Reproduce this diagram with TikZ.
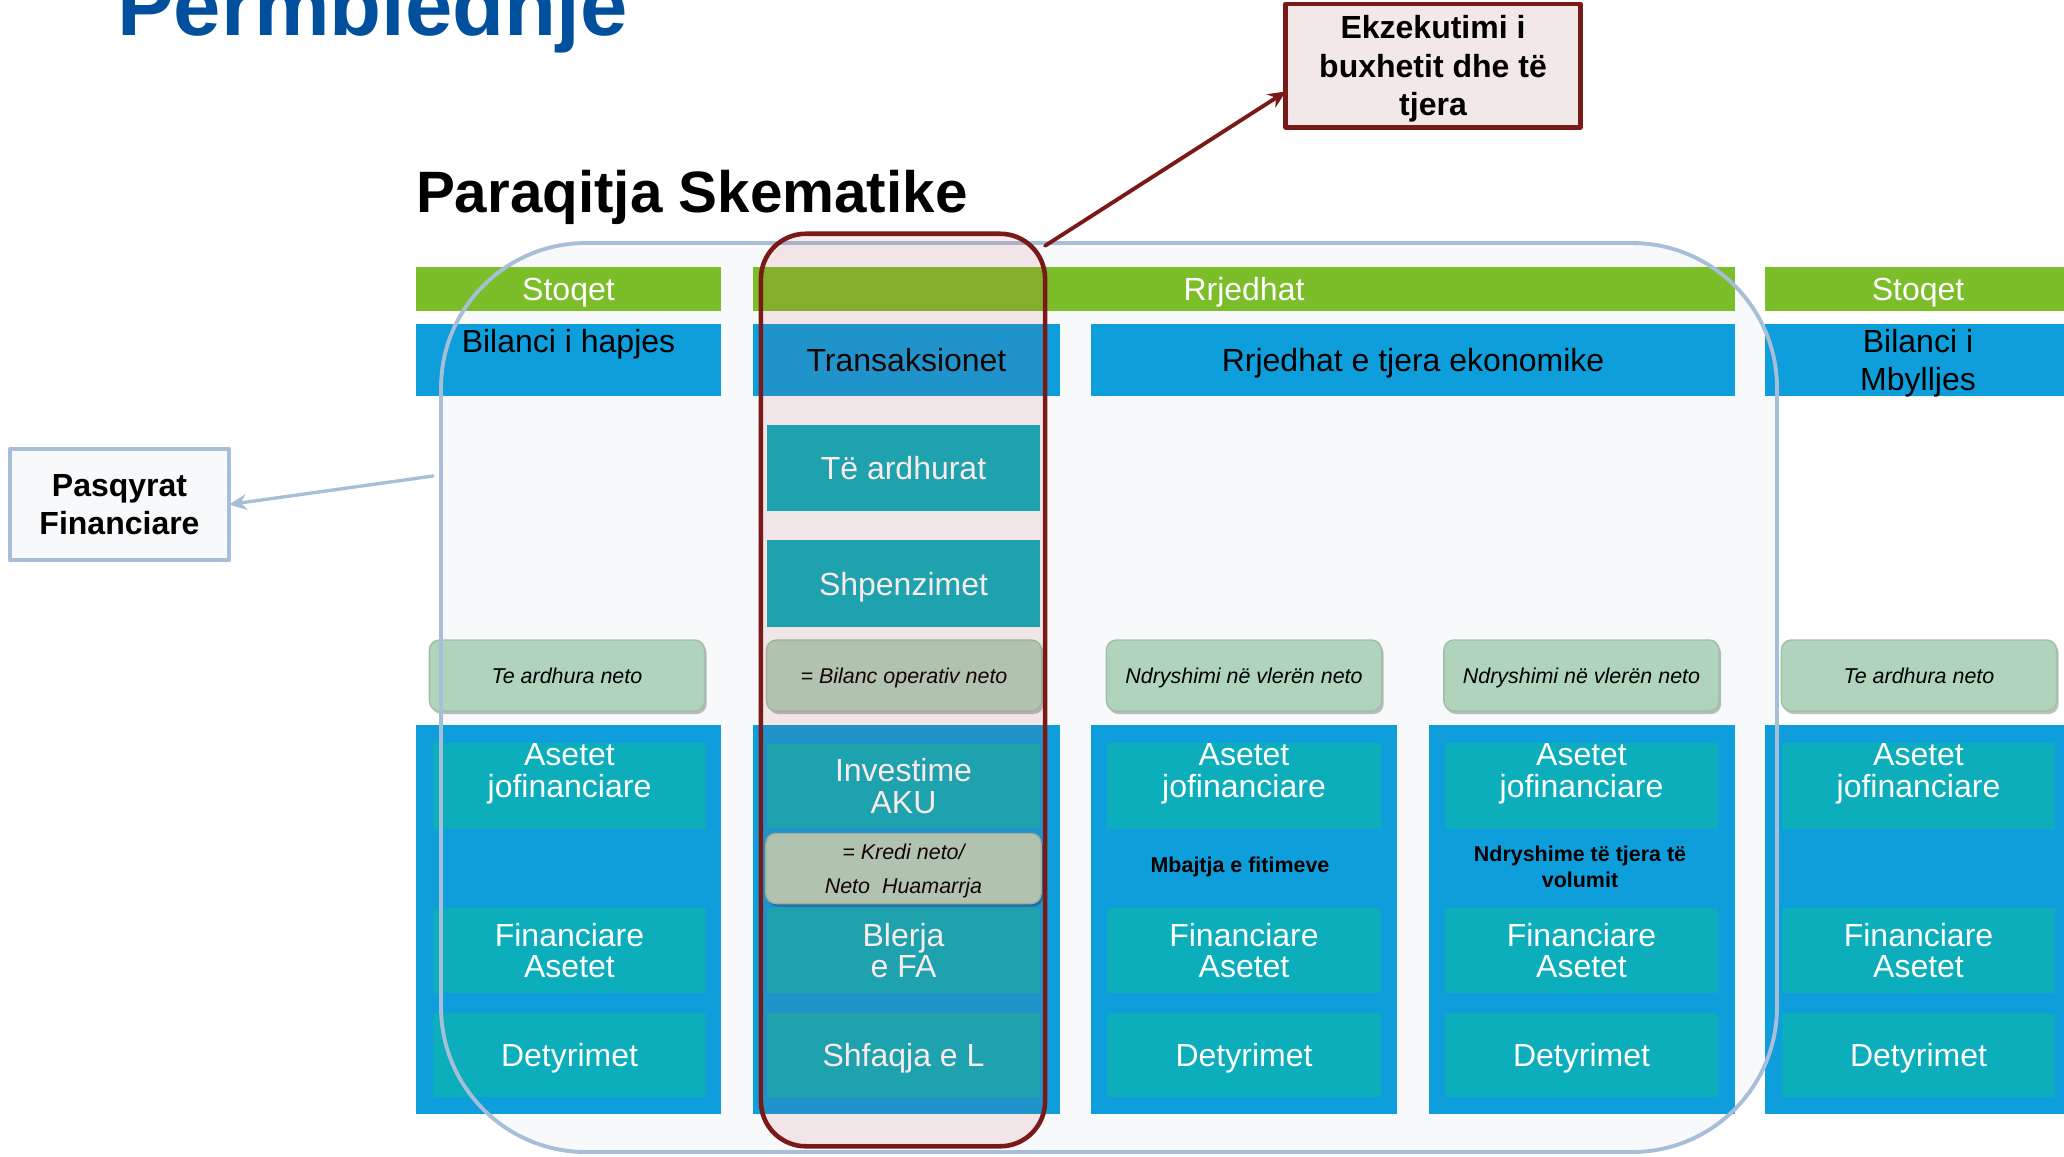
\documentclass[tikz,border=0pt]{standalone}
\usepackage{fontspec}
\setmainfont{Liberation Sans}
\usetikzlibrary{shadows,arrows.meta}
\definecolor{hdrgreen}{RGB}{124,189,42}
\definecolor{barblue}{RGB}{14,158,219}
\definecolor{cellteal}{RGB}{11,174,186}
\definecolor{netgreen}{RGB}{175,211,187}
\definecolor{netedge}{RGB}{160,190,170}
\definecolor{finblue}{RGB}{166,190,216}
\definecolor{finbg}{RGB}{247,249,251}
\definecolor{budred}{RGB}{122,26,24}
\definecolor{budpink}{RGB}{200,60,60}
\definecolor{budbg}{RGB}{242,232,232}
\definecolor{titleblue}{RGB}{0,80,158}
\newcommand\szhead{\fontsize{9.1}{10.8}\selectfont}
\newcommand\szcell{\fontsize{9.1}{9}\selectfont}
\newcommand\sznet{\fontsize{6.1}{9.5}\selectfont\itshape}
\newcommand\szlbl{\fontsize{6.1}{7.5}\selectfont\bfseries}
\newcommand\sznote{\fontsize{9.1}{11}\selectfont\bfseries}
\begin{document}
\begin{tikzpicture}[x=0.01cm,y=-0.01cm,line join=round,line cap=round,>={Stealth[length=5pt,width=4.5pt]},
	every node/.style={inner sep=0pt,outer sep=0pt},
	hdr/.style={fill=hdrgreen,text=white,minimum height=0.44cm,text depth=0pt,font=\szhead},
	bar/.style={fill=barblue,text=black,minimum height=0.72cm,text depth=0pt,align=center,font=\szhead},
	panel/.style={fill=barblue,minimum width=3.06cm,minimum height=3.89cm},
	cell/.style={fill=cellteal,text=white,minimum width=2.73cm,minimum height=0.85cm,text depth=0pt,align=center,font=\szcell},
	net/.style={fill=netgreen,draw=netedge,line width=0.4pt,rounded corners=0.1cm,minimum width=2.75cm,minimum height=0.71cm,text depth=0pt,align=center,font=\sznet,
		drop shadow={shadow xshift=0.02cm,shadow yshift=-0.03cm,opacity=0.25,fill=black}},
	lbl/.style={align=center,font=\szlbl},
	note/.style={line width=1.15pt,text depth=0pt,align=center,font=\sznote}]
	%%khung
	\useasboundingbox (0,0) rectangle (2064,1156);
	\fill[white] (0,0) rectangle (2064,1156);
	\fill[finbg,rounded corners=1.45cm] (441,243) rectangle (1777,1152);
	%%tituj
	\node[anchor=base west,text=titleblue,font=\fontsize{24.2}{26}\selectfont\bfseries] (tmain) at (117,35) {Përmbledhje};
	\node[anchor=base west,font=\fontsize{16.6}{18}\selectfont\bfseries] (tsub) at (416,212) {Paraqitja Skematike};
	%%koka
	\node[hdr,minimum width=3.05cm] (hA) at (568.5,289) {Stoqet};
	\node[hdr,minimum width=9.82cm] (hF) at (1244,289) {Rrjedhat};
	\node[hdr,minimum width=3.06cm] (hE) at (1918,289) {Stoqet};
	\node[bar,minimum width=3.05cm] (bA) at (568.5,360) {Bilanci i hapjes\\~};
	\node[bar,minimum width=3.07cm] (bB) at (906.5,360) {Transaksionet};
	\node[bar,minimum width=6.44cm] (bC) at (1413,360) {Rrjedhat e tjera ekonomike};
	\node[bar,minimum width=3.06cm] (bE) at (1918,360) {Bilanci i\\Mbylljes};
	%%transaksionet
	\node[cell,minimum height=0.86cm] (tB1) at (903.5,468) {Të ardhurat};
	\node[cell,minimum height=0.87cm] (tB2) at (903.5,583.5) {Shpenzimet};
	%%rezultatet neto
	\node[net] (nA) at (567,675.5) {Te ardhura neto};
	\node[net] (nB) at (904,675.5) {= Bilanc operativ neto};
	\node[net] (nC) at (1244,675.5) {Ndryshimi në vlerën neto};
	\node[net] (nD) at (1581.5,675.5) {Ndryshimi në vlerën neto};
	\node[net] (nE) at (1919,675.5) {Te ardhura neto};
	%%panelet
	\node[panel,minimum width=3.05cm] (pA) at (568.5,919.5) {};
	\node[panel,minimum width=3.07cm] (pB) at (906.5,919.5) {};
	\node[panel] (pC) at (1244,919.5) {};
	\node[panel] (pD) at (1582,919.5) {};
	\node[panel] (pE) at (1918,919.5) {};
	%%A
	\node[cell,minimum height=0.84cm] (a1) at (569.5,786) {Asetet\\jofinanciare\\~};
	\node[cell] (a2) at (569.5,950.5) {Financiare\\Asetet};
	\node[cell,minimum height=0.84cm] (a3) at (569.5,1055) {Detyrimet};
	%%B
	\node[cell,minimum height=0.84cm] (b1) at (903.5,786) {Investime\\AKU};
	\node[cell] (b2) at (903.5,950.5) {Blerja\\e FA};
	\node[cell,minimum height=0.84cm] (b3) at (903.5,1055) {Shfaqja e L};
	\node[net,minimum height=0.70cm] (kr) at (903.5,868.5) {= Kredi neto/\\Neto~ Huamarrja};
	%%C
	\node[cell,minimum height=0.84cm] (c1) at (1244,786) {Asetet\\jofinanciare\\~};
	\node[lbl] (cm) at (1240,867) {Mbajtja e fitimeve};
	\node[cell] (c2) at (1244,950.5) {Financiare\\Asetet};
	\node[cell,minimum height=0.84cm] (c3) at (1244,1055) {Detyrimet};
	%%D
	\node[cell,minimum height=0.84cm] (d1) at (1581.5,786) {Asetet\\jofinanciare\\~};
	\node[lbl] (dm) at (1580,866.5) {Ndryshime të tjera të\\volumit};
	\node[cell] (d2) at (1581.5,950.5) {Financiare\\Asetet};
	\node[cell,minimum height=0.84cm] (d3) at (1581.5,1055) {Detyrimet};
	%%E
	\node[cell,minimum height=0.84cm] (e1) at (1918.5,786) {Asetet\\jofinanciare\\~};
	\node[cell] (e2) at (1918.5,950.5) {Financiare\\Asetet};
	\node[cell,minimum height=0.84cm] (e3) at (1918.5,1055) {Detyrimet};
	%%pasqyrat financiare
	\draw[finblue,line width=1.1pt,rounded corners=1.45cm] (441,243) rectangle (1777,1152);
	\node[note,draw=finblue,fill=finbg,minimum width=2.19cm,minimum height=1.11cm] (pasq) at (119.5,504.5) {Pasqyrat\\Financiare};
	\coordinate (finlink) at (433,476);
	\draw[->,finblue,line width=0.95pt] (finlink) -- (pasq.east);
	%%buxheti
	\node[draw=budred,line width=1.3pt,fill=budpink,fill opacity=0.1,rounded corners=0.45cm,minimum width=2.84cm,minimum height=9.12cm] (bud) at (903,690) {};
	\node[note,draw=budred,line width=1.4pt,fill=budbg,minimum width=2.94cm,minimum height=1.23cm] (ekz) at (1433,65.5) {Ekzekutimi i\\buxhetit dhe të\\tjera};
	\draw[->,budred,line width=1.1pt] ([yshift=-0.12cm]bud.north east) -- (ekz.190);
\end{tikzpicture}
\end{document}
